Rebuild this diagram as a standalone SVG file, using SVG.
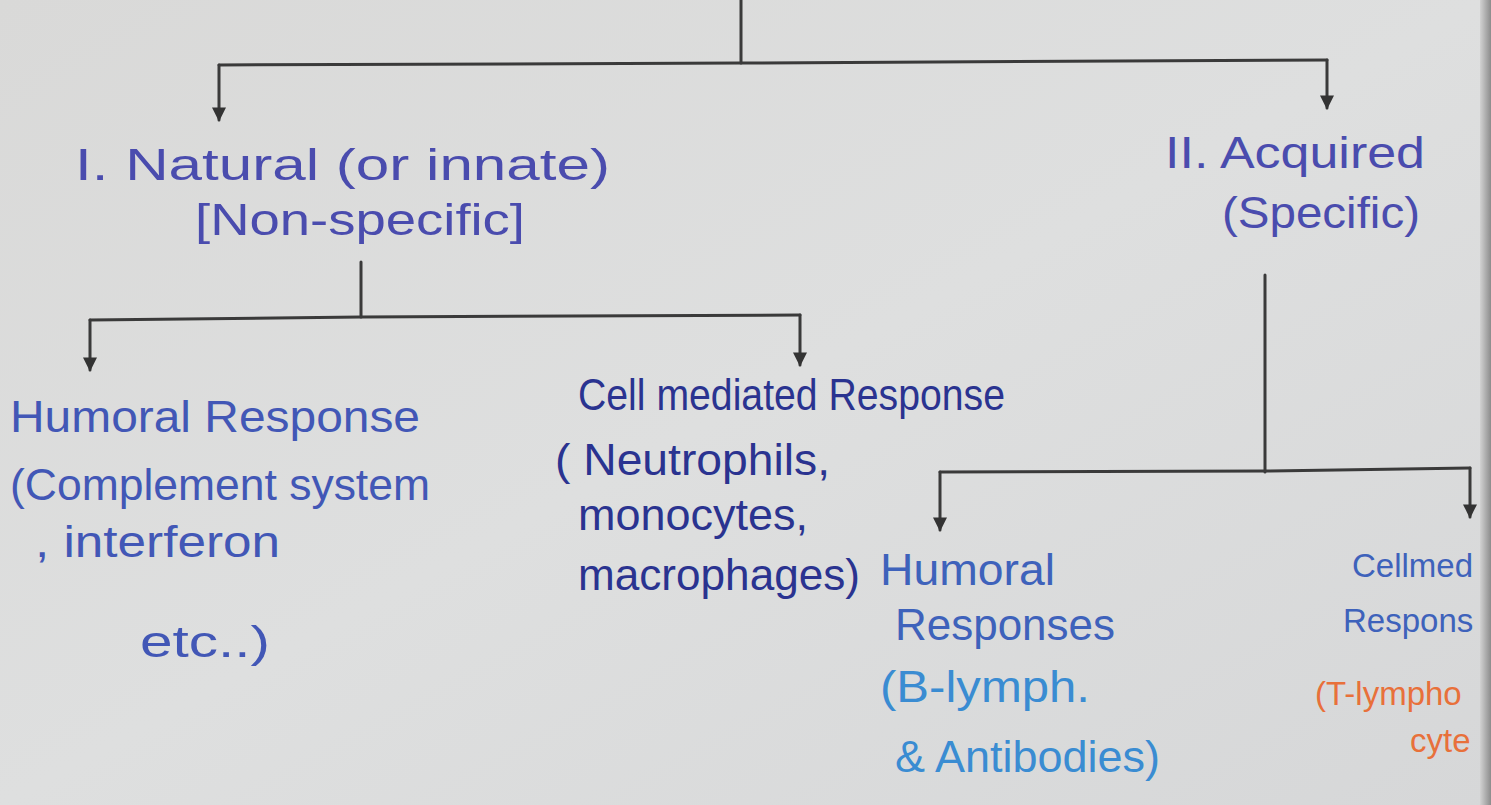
<svg xmlns="http://www.w3.org/2000/svg" width="1491" height="805" viewBox="0 0 1491 805">
<defs>
<linearGradient id="paper" x1="0" y1="0" x2="1" y2="1">
<stop offset="0" stop-color="#d9d9d8"/>
<stop offset="0.5" stop-color="#dedfdf"/>
<stop offset="1" stop-color="#d6d7d8"/>
</linearGradient>
<linearGradient id="edge" x1="0" y1="0" x2="1" y2="0">
<stop offset="0" stop-color="#d2d2d2"/>
<stop offset="1" stop-color="#8c8c8c"/>
</linearGradient>
<marker id="arr" viewBox="0 0 10 10" refX="9" refY="5" markerWidth="16" markerHeight="14" markerUnits="userSpaceOnUse" orient="auto">
<path d="M0,0 L10,5 L0,10 Z" fill="#333"/>
</marker>
</defs>
<style>
.t{font-family:"Liberation Sans","DejaVu Sans",sans-serif;font-size:44px;}
.s{font-size:33px;}
.c{fill:none;stroke:#3a3a3a;stroke-width:3;stroke-linecap:round;}
.a{marker-end:url(#arr);}
.p1{fill:#4a4cae;}
.p2{fill:#4257b6;}
.p3{fill:#2a3390;}
.p4{fill:#3e62bb;}
.p5{fill:#3a8cd2;}
.p6{fill:#e8703a;}
</style>
<rect width="1491" height="805" fill="url(#paper)"/>
<rect x="1480" y="0" width="11" height="805" fill="url(#edge)"/>

<g id="connectors">
<path class="c" d="M741,0 L741,63"/>
<path class="c" d="M219,65 L741,63 L1327,60"/>
<path class="c a" d="M219,65 L219,120"/>
<path class="c a" d="M1327,60 L1327,108"/>
<path class="c" d="M361,262 L361,317"/>
<path class="c" d="M90,320 L361,317 L800,315"/>
<path class="c a" d="M90,320 L90,370"/>
<path class="c a" d="M800,315 L800,365"/>
<path class="c" d="M1265,275 L1265,472"/>
<path class="c" d="M940,472 L1265,471 L1470,468"/>
<path class="c a" d="M940,472 L940,530"/>
<path class="c a" d="M1470,468 L1470,517"/>
</g>

<g id="natural">
<text class="t p1" x="75" y="180" textLength="535" lengthAdjust="spacingAndGlyphs">I. Natural (or innate)</text>
<text class="t p1" x="195" y="235" textLength="330" lengthAdjust="spacingAndGlyphs">[Non-specific]</text>
</g>

<g id="acquired">
<text class="t p1" x="1165" y="168" textLength="260" lengthAdjust="spacingAndGlyphs">II. Acquired</text>
<text class="t p1" x="1222" y="228" textLength="198" lengthAdjust="spacingAndGlyphs">(Specific)</text>
</g>

<g id="humoral-innate">
<text class="t p2" x="10" y="432" textLength="410" lengthAdjust="spacingAndGlyphs">Humoral Response</text>
<text class="t p2" x="10" y="500" textLength="420" lengthAdjust="spacingAndGlyphs">(Complement system</text>
<text class="t p2" x="35" y="557" textLength="245" lengthAdjust="spacingAndGlyphs">, interferon</text>
<text class="t p2" x="140" y="657" textLength="130" lengthAdjust="spacingAndGlyphs">etc..)</text>
</g>

<g id="cell-innate">
<text class="t p3" x="578" y="410" textLength="427" lengthAdjust="spacingAndGlyphs">Cell mediated Response</text>
<text class="t p3" x="555" y="475" textLength="275" lengthAdjust="spacingAndGlyphs">( Neutrophils,</text>
<text class="t p3" x="578" y="530" textLength="230" lengthAdjust="spacingAndGlyphs">monocytes,</text>
<text class="t p3" x="578" y="590" textLength="282" lengthAdjust="spacingAndGlyphs">macrophages)</text>
</g>

<g id="humoral-acquired">
<text class="t p4" x="880" y="585" textLength="175" lengthAdjust="spacingAndGlyphs">Humoral</text>
<text class="t p4" x="895" y="640" textLength="220" lengthAdjust="spacingAndGlyphs">Responses</text>
<text class="t p5" x="880" y="702" textLength="210" lengthAdjust="spacingAndGlyphs">(B-lymph.</text>
<text class="t p5" x="895" y="772" textLength="265" lengthAdjust="spacingAndGlyphs">&amp; Antibodies)</text>
</g>

<g id="cell-acquired">
<text class="t s p4" x="1352" y="577">Cellmed</text>
<text class="t s p4" x="1343" y="632">Respons</text>
<text class="t s p6" x="1315" y="705">(T-lympho</text>
<text class="t s p6" x="1410" y="752">cyte</text>
</g>
</svg>
